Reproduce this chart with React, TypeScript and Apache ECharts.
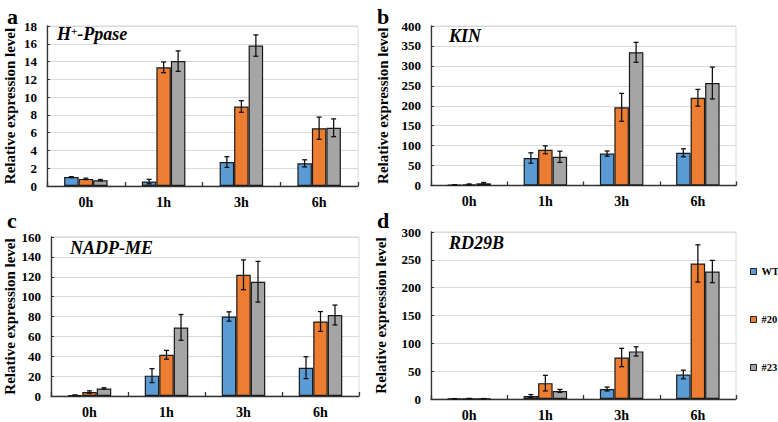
import React, { useEffect, useRef } from "react";
import * as echarts from "echarts";

const categories = ["0h", "1h", "3h", "6h"];
const groups = ["WT", "#20", "#23"];
const colors = ["#5B9BD5", "#ED7D31", "#A5A5A5"];

// a: H+-Ppase
const hppaseWT = [1.0, 0.5, 2.7, 2.55];
const hppaseWTErr = [0.05, 0.25, 0.6, 0.4];
const hppase20 = [0.8, 13.35, 8.95, 6.5];
const hppase20Err = [0.08, 0.6, 0.65, 1.25];
const hppase23 = [0.65, 14.05, 15.8, 6.55];
const hppase23Err = [0.08, 1.15, 1.2, 1.0];

// b: KIN
const kinWT = [1.5, 69, 80, 82];
const kinWTErr = [0.5, 13, 6.5, 10];
const kin20 = [3, 89.5, 196, 220];
const kin20Err = [1, 10, 35, 21];
const kin23 = [5.5, 72, 334, 257];
const kin23Err = [2, 14, 25, 40];

// c: NADP-ME
const nadpWT = [0.8, 20.5, 80, 28.5];
const nadpWTErr = [0.3, 7, 4.7, 11];
const nadp20 = [4, 41.5, 122, 75];
const nadp20Err = [1.2, 4.4, 15, 10];
const nadp23 = [7.5, 69, 115, 81.5];
const nadp23Err = [0.8, 13, 20.5, 10];

// d: RD29B
const rdWT = [0.5, 5.5, 18, 44];
const rdWTErr = [0.2, 2.5, 3.5, 7.7];
const rd20 = [0.8, 28.5, 74.5, 243.5];
const rd20Err = [0.3, 14, 16.5, 33.5];
const rd23 = [0.6, 14.5, 85.5, 229];
const rd23Err = [0.2, 2.7, 8.3, 20];

const yMax = [18, 400, 160, 300];
const yInterval = [2, 50, 20, 50];

const panels = [
  { vals: [hppaseWT, hppase20, hppase23], errs: [hppaseWTErr, hppase20Err, hppase23Err] },
  { vals: [kinWT, kin20, kin23], errs: [kinWTErr, kin20Err, kin23Err] },
  { vals: [nadpWT, nadp20, nadp23], errs: [nadpWTErr, nadp20Err, nadp23Err] },
  { vals: [rdWT, rd20, rd23], errs: [rdWTErr, rd20Err, rd23Err] },
];

const FONT = "'Liberation Serif', 'Times New Roman', serif";
const BAR_W = 14.5;

const grids = [
  { left: 47, top: 26, width: 311, height: 160 },
  { left: 431, top: 26, width: 305, height: 159.5 },
  { left: 51, top: 237, width: 308, height: 159 },
  { left: 431, top: 232, width: 305, height: 168 },
];
const nameGaps = [30, 41, 34, 43];

export default function App() {
  const ref = useRef<HTMLDivElement>(null);
  useEffect(() => {
    document.body.style.margin = "0";
    const chart = echarts.init(ref.current!, null, { renderer: "svg" });

    const series: any[] = [];
    panels.forEach((p, pi) => {
      p.vals.forEach((vals, gi) => {
        series.push({
          type: "bar",
          name: groups[gi],
          xAxisIndex: pi,
          yAxisIndex: pi,
          data: vals,
          barWidth: BAR_W,
          barGap: "0%",
          itemStyle: { color: colors[gi], borderColor: "#1a1a1a", borderWidth: 1.2 },
          z: 2,
        });
      });
      p.vals.forEach((vals, gi) => {
        const offset = (gi - 1) * BAR_W;
        series.push({
          type: "custom",
          name: "err" + pi + "_" + gi,
          xAxisIndex: pi,
          yAxisIndex: pi,
          z: 5,
          data: vals.map((v, i) => [i, v, p.errs[gi][i]]),
          encode: { x: 0, y: 1 },
          renderItem: (params: any, api: any) => {
            const i = api.value(0);
            const v = api.value(1);
            const e = api.value(2);
            const top = api.coord([i, v + e]);
            const bot = api.coord([i, Math.max(v - e, 0)]);
            const x = top[0] + offset;
            const cap = 2.5;
            const st = { stroke: "#111", lineWidth: 1.3 };
            return {
              type: "group",
              children: [
                { type: "line", shape: { x1: x, y1: top[1], x2: x, y2: bot[1] }, style: st },
                { type: "line", shape: { x1: x - cap, y1: top[1], x2: x + cap, y2: top[1] }, style: st },
                { type: "line", shape: { x1: x - cap, y1: bot[1], x2: x + cap, y2: bot[1] }, style: st },
              ],
            };
          },
        });
      });
    });

    const option: any = {
      animation: false,
      backgroundColor: "#fff",
      grid: grids.map((g) => ({
        ...g,
        show: true,
        borderColor: "#d9d9d9",
        borderWidth: 1,
        backgroundColor: "transparent",
      })),
      xAxis: grids.map((g, i) => ({
        type: "category",
        gridIndex: i,
        data: categories,
        axisLine: { show: true, lineStyle: { color: "#333", width: 1.3 } },
        axisTick: { show: true, inside: true, length: 4, lineStyle: { color: "#333", width: 1.3 } },
        axisLabel: {
          color: "#000",
          fontFamily: FONT,
          fontWeight: "bold",
          fontSize: 14,
          margin: 9,
        },
      })),
      yAxis: grids.map((g, i) => ({
        type: "value",
        gridIndex: i,
        min: 0,
        max: yMax[i],
        interval: yInterval[i],
        name: "Relative expression level",
        nameLocation: "middle",
        nameGap: nameGaps[i],
        nameTextStyle: { color: "#000", fontFamily: FONT, fontWeight: "bold", fontSize: 15 },
        axisLine: { show: true, lineStyle: { color: "#333", width: 1.3 } },
        axisTick: { show: true, inside: true, length: 3, lineStyle: { color: "#333" } },
        splitLine: { show: true, lineStyle: { color: "#d9d9d9", width: 1 } },
        axisLabel: {
          color: "#000",
          fontFamily: FONT,
          fontWeight: "bold",
          fontSize: 13,
          margin: 10,
        },
      })),
      legend: {
        data: groups,
        orient: "vertical",
        left: 750,
        top: 266,
        padding: 0,
        itemWidth: 6,
        itemHeight: 6,
        itemGap: 37,
        icon: "rect",
        itemStyle: { borderColor: "#222", borderWidth: 1 },
        textStyle: { color: "#000", fontFamily: FONT, fontWeight: "bold", fontSize: 10.5 },
      },
      title: [
        { text: "a", left: 2, top: 0, textStyle: { fontFamily: FONT, fontWeight: "bold", fontSize: 22, color: "#000" } },
        { text: "b", left: 372, top: 0, textStyle: { fontFamily: FONT, fontWeight: "bold", fontSize: 22, color: "#000" } },
        { text: "c", left: 2, top: 204, textStyle: { fontFamily: FONT, fontWeight: "bold", fontSize: 22, color: "#000" } },
        { text: "d", left: 372, top: 204, textStyle: { fontFamily: FONT, fontWeight: "bold", fontSize: 22, color: "#000" } },
        {
          text: "{i|H}{s|+}{i|-Ppase}",
          left: 57,
          top: 25,
          padding: 0,
          textStyle: {
            rich: {
              i: { fontFamily: FONT, fontWeight: "bold", fontStyle: "italic", fontSize: 18, color: "#000" },
              s: { fontFamily: FONT, fontWeight: "bold", fontStyle: "italic", fontSize: 11, color: "#000", verticalAlign: "top", padding: [0, 0, 6, 0] },
            },
          },
        },
        { text: "KIN", left: 449, top: 27, padding: 0, textStyle: { fontFamily: FONT, fontWeight: "bold", fontStyle: "italic", fontSize: 18, color: "#000" } },
        { text: "NADP-ME", left: 70, top: 239, padding: 0, textStyle: { fontFamily: FONT, fontWeight: "bold", fontStyle: "italic", fontSize: 18, color: "#000" } },
        { text: "RD29B", left: 449, top: 234, padding: 0, textStyle: { fontFamily: FONT, fontWeight: "bold", fontStyle: "italic", fontSize: 18, color: "#000" } },
      ],
      series,
    };
    chart.setOption(option);
    return () => chart.dispose();
  }, []);
  return <div ref={ref} style={{ width: 778, height: 422 }} />;
}
